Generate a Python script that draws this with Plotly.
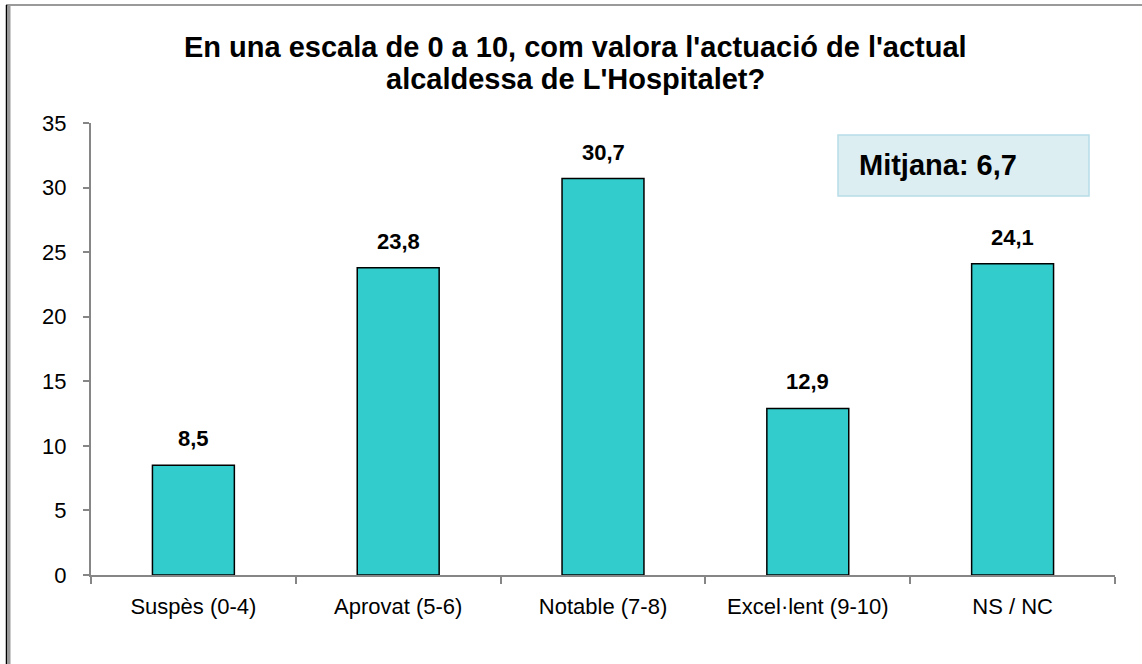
import plotly.graph_objects as go

categories = ["Suspès (0-4)", "Aprovat (5-6)", "Notable (7-8)", "Excel·lent (9-10)", "NS / NC"]
values = [8.5, 23.8, 30.7, 12.9, 24.1]
value_labels = ["8,5", "23,8", "30,7", "12,9", "24,1"]
mean_label = "Mitjana: 6,7"
title_lines = ["En una escala de 0 a 10, com valora l'actuació de l'actual",
               "alcaldessa de L'Hospitalet?"]

W, H = 1142, 664
L, R, T, B = 91, 27, 123, 89
pw, ph = W - L - R, H - T - B


def px_x(x):
    return (x - L) / pw


def px_y(y):
    return (H - B - y) / ph


fig = go.Figure(go.Bar(
    x=categories,
    y=values,
    width=0.4,
    marker=dict(color="#33CCCC", line=dict(color="#000000", width=1.5)),
    hoverinfo="x+y",
))

# value labels above bars
for cat, val, lab in zip(categories, values, value_labels):
    fig.add_annotation(
        x=cat, y=val, text="<b>" + lab + "</b>", showarrow=False,
        yanchor="bottom", yshift=12,
        font=dict(size=22, color="#000000"),
    )

# title, two lines set a bit tighter than plotly's default line height
for line, ypx in zip(title_lines, [47, 79]):
    fig.add_annotation(
        xref="paper", yref="paper", x=px_x(575), y=px_y(ypx),
        xanchor="center", yanchor="middle", showarrow=False,
        text="<b>" + line + "</b>", font=dict(size=29, color="#000000"),
    )

fig.update_layout(
    width=W, height=H,
    margin=dict(l=L, r=R, t=T, b=B),
    paper_bgcolor="white",
    plot_bgcolor="white",
    font=dict(family="Liberation Sans, Arial", size=22, color="#000000"),
    showlegend=False,
)

fig.update_xaxes(
    showline=True, linecolor="#868686", linewidth=2,
    ticks="outside", tickson="boundaries", ticklen=7, tickcolor="#868686", tickwidth=2,
    showgrid=False, tickfont=dict(size=22), ticklabelstandoff=11,
)
fig.update_yaxes(
    range=[0, 35], dtick=5, showline=True, linecolor="#868686", linewidth=2,
    ticks="outside", ticklen=6, tickcolor="#868686", tickwidth=2,
    showgrid=False, zeroline=False, tickfont=dict(size=22), ticklabelstandoff=12,
)

# mean box
fig.add_shape(
    type="rect", xref="paper", yref="paper",
    x0=px_x(838), x1=px_x(1089), y0=px_y(196), y1=px_y(135),
    fillcolor="#DDEEF3", line=dict(color="#B7DDE8", width=1.5), layer="above",
)
fig.add_annotation(
    xref="paper", yref="paper", x=px_x(857), y=px_y(165),
    xanchor="left", yanchor="middle", showarrow=False,
    text="<b>" + mean_label + "</b>", font=dict(size=29, color="#000000"),
)

# outer frame (top + left edges)
fig.add_shape(type="line", xref="paper", yref="paper",
              x0=px_x(6), x1=px_x(1142), y0=px_y(5), y1=px_y(5),
              line=dict(color="#9A9A9A", width=2))
fig.add_shape(type="line", xref="paper", yref="paper",
              x0=px_x(9), x1=px_x(9), y0=px_y(5), y1=px_y(664),
              line=dict(color="#9A9A9A", width=3))
fig.add_shape(type="line", xref="paper", yref="paper",
              x0=px_x(6.5), x1=px_x(6.5), y0=px_y(5), y1=px_y(664),
              line=dict(color="#000000", width=1.5))

fig.write_html("out.html", config={"displayModeBar": False},
               post_script="document.body.style.margin='0';")
